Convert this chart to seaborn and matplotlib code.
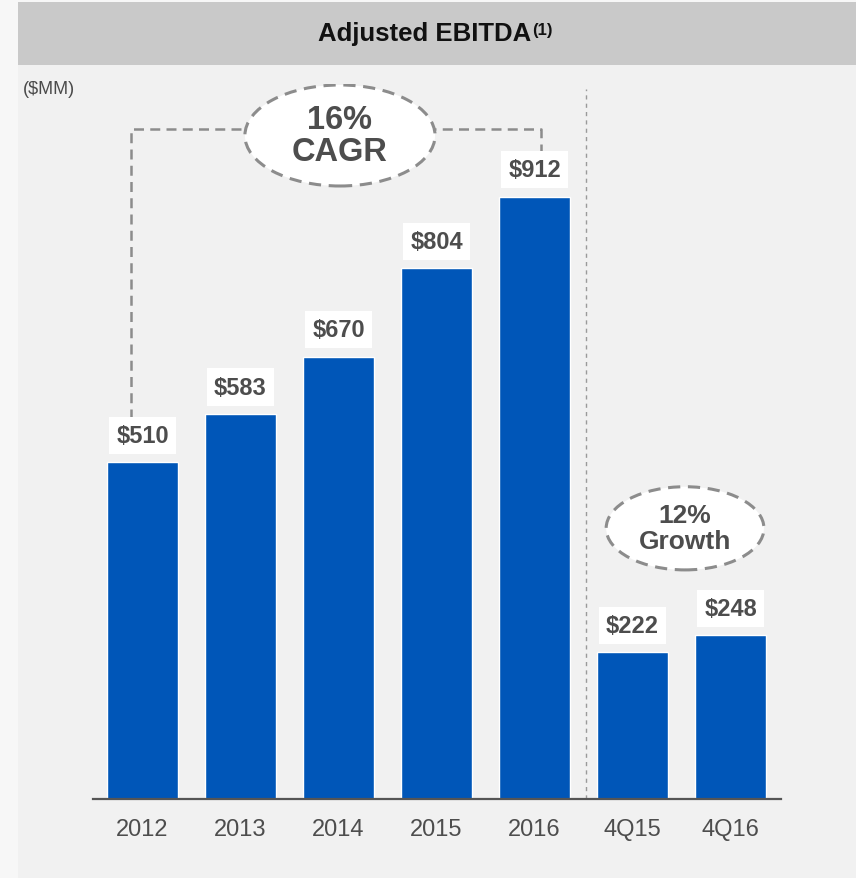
import numpy as np
import pandas as pd
import seaborn as sns
import matplotlib.pyplot as plt
from matplotlib.patches import Ellipse, Rectangle

# Veriler
categories = ["2012", "2013", "2014", "2015", "2016", "4Q15", "4Q16"]
values = [510, 583, 670, 804, 912, 222, 248]
cagr_text = "16%\nCAGR"
growth_text = "12%\nGrowth"

bar_color = "#0056B8"
text_color = "#4D4D4D"
dash_color = "#8C8C8C"

df = pd.DataFrame({"period": categories, "ebitda": values})

sns.set_theme(style="white")
plt.rcParams["font.family"] = ["Liberation Sans", "DejaVu Sans"]

fig = plt.figure(figsize=(8.56, 8.79), dpi=100)
fig.patch.set_facecolor("#F1F1F1")

# Başlık bandı ve sol kenar
fig.patches.append(Rectangle((0, 0), 18 / 856, 1, transform=fig.transFigure,
                             facecolor="#F7F7F7", edgecolor="none", zorder=-2))
fig.patches.append(Rectangle((0, 876 / 879), 1, 3 / 879, transform=fig.transFigure,
                             facecolor="#F7F7F7", edgecolor="none", zorder=-2))
fig.patches.append(Rectangle((18 / 856, 813 / 879), 1 - 18 / 856, 63 / 879,
                             transform=fig.transFigure, facecolor="#C9C9C9",
                             edgecolor="none", zorder=-1))

title = fig.text(425 / 856, 1 - 34 / 879, "Adjusted EBITDA", ha="center", va="center",
                 fontsize=18.5, fontweight="bold", color="#111111", zorder=2)

fig.text(23 / 856, 1 - 89 / 879, r"(\$MM)", ha="left", va="center",
         fontsize=13, color="#4A4A4A")

# Grafik alanı
ax = fig.add_axes([93 / 856, 79 / 879, 688 / 856, 715 / 879])
ax.set_facecolor("none")
sns.barplot(data=df, x="period", y="ebitda", color=bar_color, saturation=1,
            width=0.72, ax=ax, zorder=2)

ax.annotate("(1)", xy=(1, 0.64), xycoords=title, xytext=(0.3, 0), textcoords="offset points",
            ha="left", va="center", fontsize=12, fontweight="bold", color="#111111",
            annotation_clip=False, zorder=6)

ax.set_xlim(-0.505, 6.515)
ax.set_ylim(0, 1083)
ax.set_xlabel("")
ax.set_ylabel("")
ax.set_yticks([])
for side in ["top", "right", "left"]:
    ax.spines[side].set_visible(False)
ax.spines["bottom"].set_color("#555555")
ax.spines["bottom"].set_linewidth(1.6)
ax.tick_params(axis="x", length=0, pad=14, labelsize=17, labelcolor=text_color)

# Değer etiketleri
for i, v in enumerate(values):
    ax.annotate(f"\\${v}", xy=(i, v), xytext=(0, 19.5), textcoords="offset points",
                ha="center", va="center", fontsize=17, fontweight="bold",
                color=text_color, zorder=5,
                bbox=dict(boxstyle="square,pad=0.3", facecolor="white", edgecolor="none"))

# Yıllar ile çeyrekler arası ayırıcı
ax.plot([4.53, 4.53], [0, 1076], color="#9A9A9A", lw=1, ls=(0, (3, 3)), zorder=1)

# CAGR köşeli çizgisi
top_y = 1015
ax.plot([-0.12, -0.12, 4.07, 4.07], [values[0] + 66, top_y, top_y, values[4] + 58],
        color=dash_color, lw=1.8, ls=(0, (4, 2.5)), zorder=1)

cagr = Ellipse((2.015, 1005), 1.94, 153, facecolor="white", edgecolor=dash_color,
               lw=2.2, ls=(0, (4, 2.5)), zorder=3)
ax.add_patch(cagr)
ax.text(2.015, 1005, cagr_text, ha="center", va="center", fontsize=23.5,
        fontweight="bold", color=text_color, linespacing=1.05, zorder=4)

growth = Ellipse((5.536, 410), 1.61, 126, facecolor="white", edgecolor=dash_color,
                 lw=2.2, ls=(0, (4, 2.5)), zorder=3)
ax.add_patch(growth)
ax.text(5.536, 410, growth_text, ha="center", va="center", fontsize=19,
        fontweight="bold", color=text_color, linespacing=1.1, zorder=4)

plt.savefig("out.png", dpi=100, facecolor=fig.get_facecolor())
